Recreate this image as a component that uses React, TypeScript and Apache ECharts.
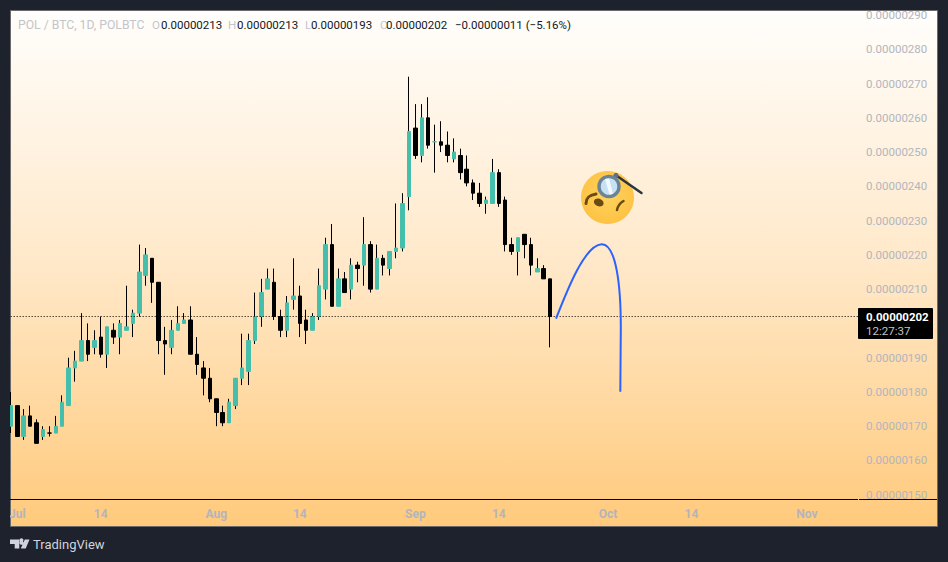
import { useEffect, useRef } from "react";
import * as echarts from "echarts";

const opens = [170,176,167,173,171,167,168,168,170,176,187,189,195,193,196,191,198,196,198,200,203,214,219,212,195,193,198,200,201,191,187,184,178,174,171,176,184,186,195,202,210,212,202,198,207,208,201,198,202,210,223,205,213,210,217,217,223,210,219,216,221,222,237,257,249,260,253,253,252,248,249,245,241,238,235,235,244,236,223,221,226,223,215,216,213];
const closes = [176,167,173,170,165,169,168,170,177,187,189,195,191,195,191,199,196,200,199,203,215,220,212,195,194,198,200,201,191,188,184,178,174,171,177,184,187,195,202,209,213,202,198,206,208,200,198,202,211,223,205,213,209,217,216,223,210,219,217,221,222,235,256,249,260,252,253,252,249,250,244,241,238,235,236,244,235,223,221,225,223,217,216,213,202];
const lows = [168,167,166,170,165,166,167,168,170,176,183,189,189,191,190,187,194,191,198,196,202,211,206,191,185,191,198,200,191,185,179,177,170,170,171,175,182,182,194,199,210,201,196,196,204,196,194,198,201,207,205,205,209,207,212,211,209,210,214,214,219,221,233,248,247,251,244,250,247,247,242,240,236,234,232,235,234,221,220,214,219,214,215,213,193];
const highs = [180,176,175,176,172,170,170,173,179,190,192,203,200,198,202,199,200,201,211,204,223,222,219,212,199,201,205,203,205,196,189,187,178,176,178,184,197,197,209,213,216,216,204,208,219,211,204,203,216,225,229,216,215,219,218,231,224,223,220,221,235,238,272,264,264,266,258,259,256,254,251,249,242,241,237,248,245,237,225,225,226,225,219,217,213];

// 200 sits behind the last price tag, so the reference shows no label for it
const priceTicks = [290,280,270,260,250,240,230,220,210,190,180,170,160,150];
const dateTicks: Record<string, string> = {
  "Jul 1": "Jul", "Jul 14": "14", "Aug 1": "Aug", "Aug 14": "14",
  "Sep 1": "Sep", "Sep 14": "14", "Oct 1": "Oct", "Oct 14": "14", "Nov 1": "Nov",
};
const lastPrice = 202;

const monthNames = ["Jun", "Jul", "Aug", "Sep", "Oct", "Nov"];
const monthDays = [30, 31, 31, 30, 31, 30];
const categories: string[] = ["Jun 30"];
monthNames.slice(1).forEach((m, k) => {
  for (let d = 1; d <= monthDays[k + 1] && categories.length < 133; d++) categories.push(m + " " + d);
});

const fmt = (v: number) => (v * 1e-8).toFixed(8);

const header = [
  { x: 18, text: "POL / BTC, 1D, POLBTC", fill: "#c3c5cb", size: 12.2 },
  { x: 152, text: "O", fill: "#c3c5cb", size: 11.5 },
  { x: 161, text: "0.00000213", fill: "#131722", size: 11.5 },
  { x: 228, text: "H", fill: "#c3c5cb", size: 11.5 },
  { x: 237, text: "0.00000213", fill: "#131722", size: 11.5 },
  { x: 305, text: "L", fill: "#c3c5cb", size: 11.5 },
  { x: 311, text: "0.00000193", fill: "#131722", size: 11.5 },
  { x: 380, text: "C", fill: "#c3c5cb", size: 11.5 },
  { x: 386, text: "0.00000202", fill: "#131722", size: 11.5 },
  { x: 455, text: "−0.00000011 (−5.16%)", fill: "#131722", size: 11.5 },
];

const FONT = "Roboto, 'Noto Sans', sans-serif";

echarts.graphic.registerShape("tvMark", echarts.graphic.extendPath(
  "M10 539.5H19.3V548.5H14.7V544H10ZM29.5 539.5L25.7 548.5H20.8L24.8 539.5ZM23 541.5A2 2 0 1 1 19.9 541.5A2 2 0 1 1 23 541.5Z", {}) as any);
echarts.graphic.registerShape("blueArc", echarts.graphic.extendPath(
  "M556 318.7C568 288 585 245 601.7 244.3C616 244 621 285 620.8 330L620.3 391.7", {}) as any);
echarts.graphic.registerShape("browLeft", echarts.graphic.extendPath("M586 203.5C586 197 590 195 596 194", {}) as any);
echarts.graphic.registerShape("browRight", echarts.graphic.extendPath("M617 210C618 205 620 203 623.5 201", {}) as any);

export default function App() {
  const chartRef = useRef<HTMLDivElement>(null);

  useEffect(() => {
    if (!chartRef.current) return;
    const chart = echarts.init(chartRef.current, null, { renderer: "svg" });
    const option = {
      animation: false,
      backgroundColor: "#1e222d",
      grid: { left: 7.67, top: 15, width: 853.86, height: 514 },
      xAxis: {
        type: "category",
        data: categories,
        axisLine: { show: false },
        axisTick: { show: false },
        splitLine: { show: false },
        axisLabel: {
          inside: true,
          margin: 9,
          interval: (_: number, v: string) => v in dateTicks,
          formatter: (v: string) => dateTicks[v] ?? "",
          color: "#b2b5be",
          fontFamily: FONT,
          fontSize: 12,
          fontWeight: "bold",
        },
      },
      yAxis: {
        type: "value",
        position: "right",
        min: 140,
        max: 290,
        interval: 10,
        axisLine: { show: false },
        axisTick: { show: false },
        splitLine: { show: false },
        axisLabel: {
          margin: 4.5,
          color: "#b2b5be",
          fontFamily: FONT,
          fontSize: 11.5,
          formatter: (v: number) => (priceTicks.includes(v) ? fmt(v) : ""),
        },
      },
      series: [
        {
          name: "wick",
          type: "candlestick",
          barWidth: 1,
          itemStyle: { color: "#000", color0: "#000", borderColor: "#000", borderColor0: "#000", borderWidth: 1 },
          data: opens.map((o, i) => [o, closes[i], lows[i], highs[i]]),
          markLine: {
            silent: true,
            symbol: "none",
            label: { show: false },
            lineStyle: { color: "#000", type: [1, 2], width: 1 },
            data: [{ yAxis: lastPrice }],
          },
        },
        {
          name: "body",
          type: "candlestick",
          barWidth: 4,
          itemStyle: { color: "#45bfac", color0: "#000", borderColor: "#45bfac", borderColor0: "#000", borderWidth: 1 },
          data: opens.map((o, i) => [o, closes[i], Math.min(o, closes[i]), Math.max(o, closes[i])]),
        },
      ],
      graphic: [
        {
          type: "rect",
          z: -10,
          shape: { x: 10.5, y: 10.5, width: 927, height: 516 },
          style: {
            fill: new echarts.graphic.LinearGradient(0, 0, 0, 1, [
              { offset: 0, color: "#fffefc" },
              { offset: 0.5, color: "#ffe8c8" },
              { offset: 1, color: "#ffca7c" },
            ]),
            stroke: "#6b6b6b",
            lineWidth: 1,
          },
        },
        // covers the part of the first candle that falls left of the panel
        { type: "rect", z: 20, shape: { x: 0, y: 11, width: 10, height: 516 }, style: { fill: "#1e222d" } },
        { type: "line", z: 20, shape: { x1: 10, y1: 499.5, x2: 858, y2: 499.5 }, style: { stroke: "#000", lineWidth: 1 } },
        { type: "line", z: 20, shape: { x1: 859, y1: 499.5, x2: 937, y2: 499.5 }, style: { stroke: "#000", lineWidth: 1 } },
        ...header.map((h) => ({
          type: "text",
          z: 20,
          x: h.x,
          y: 25,
          style: { text: h.text, fill: h.fill, font: h.size + "px " + FONT, verticalAlign: "middle" },
        })),
        { type: "rect", z: 20, shape: { x: 858, y: 308, width: 75, height: 31, r: 1 }, style: { fill: "#000" } },
        { type: "text", z: 21, x: 866, y: 316.5, style: { text: fmt(lastPrice), fill: "#fff", font: "bold 11.5px " + FONT, verticalAlign: "middle" } },
        { type: "text", z: 21, x: 866, y: 331, style: { text: "12:27:37", fill: "#c4c4c4", font: "11.5px " + FONT, verticalAlign: "middle" } },
        { type: "blueArc", z: 20, style: { fill: "none", stroke: "#2962ff", lineWidth: 2 } },
        // monocle face sticker
        {
          type: "circle",
          z: 20,
          shape: { cx: 607.5, cy: 197.5, r: 26.5 },
          style: {
            fill: new echarts.graphic.RadialGradient(0.5, 0.45, 0.55, [
              { offset: 0, color: "#ffd45e" },
              { offset: 1, color: "#fdc244" },
            ]),
          },
        },
        { type: "browLeft", z: 21, style: { fill: "none", stroke: "#6b4a13", lineWidth: 3, lineCap: "round" } },
        { type: "browRight", z: 21, style: { fill: "none", stroke: "#6b4a13", lineWidth: 2.5, lineCap: "round" } },
        { type: "ellipse", z: 21, rotation: -0.35, originX: 599, originY: 202.5, shape: { cx: 599, cy: 202.5, rx: 5, ry: 3.8 }, style: { fill: "#6b4a13" } },
        { type: "line", z: 21, shape: { x1: 617, y1: 176, x2: 641.5, y2: 193 }, style: { stroke: "#29343d", lineWidth: 2.5, lineCap: "round" } },
        { type: "circle", z: 22, shape: { cx: 616, cy: 175.5, r: 2.6 }, style: { fill: "#5b7081" } },
        { type: "circle", z: 22, shape: { cx: 609, cy: 186.5, r: 10 }, style: { fill: "#c6e1f4", stroke: "#6c8395", lineWidth: 3.5 } },
        { type: "polygon", z: 23, shape: { points: [[605, 179], [609, 178.5], [613, 193.5], [609.5, 194.5]] }, style: { fill: "#f3f9fd" } },
        { type: "tvMark", z: 20, style: { fill: "#d1d4dc" } },
        { type: "text", z: 20, x: 33, y: 544.5, style: { text: "TradingView", fill: "#d1d4dc", font: "13px " + FONT, verticalAlign: "middle" } },
      ],
    };

    chart.setOption(option as any);
    return () => {
      chart.dispose();
    };
  }, []);

  return <div ref={chartRef} style={{ position: "absolute", left: 0, top: 0, width: 948, height: 562 }}></div>;
}
